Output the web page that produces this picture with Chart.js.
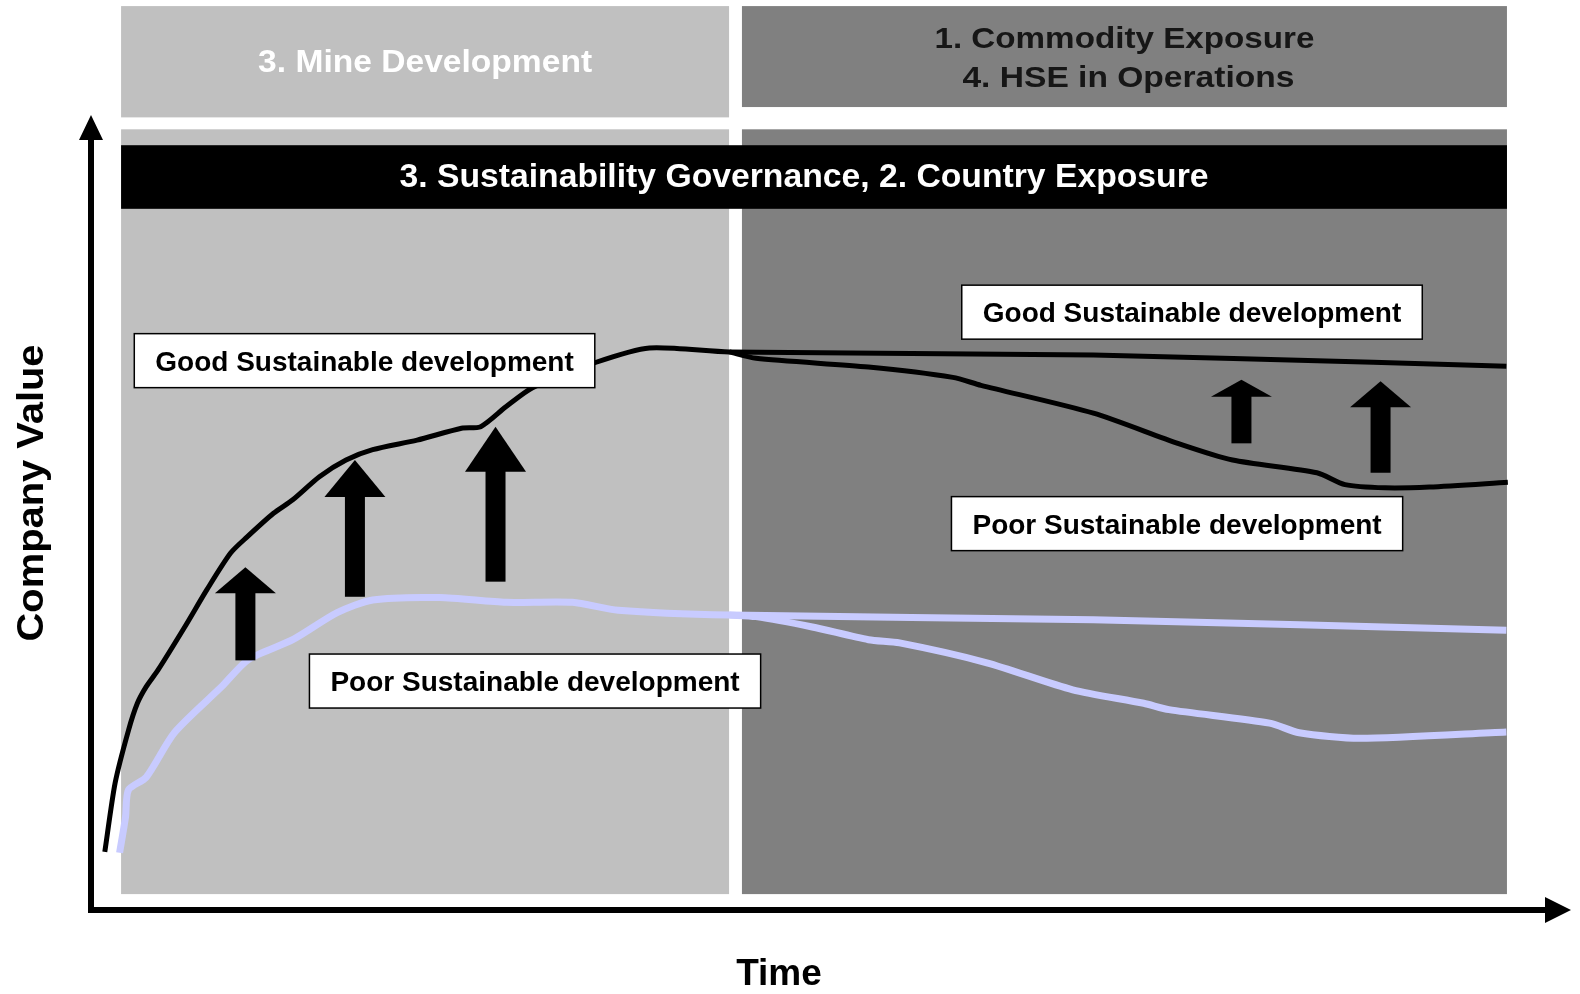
<!DOCTYPE html>
<html>
<head>
<meta charset="utf-8">
<script src="https://cdn.jsdelivr.net/npm/chart.js@4/dist/chart.umd.min.js"></script>
<style>
body{margin:0;background:#fff}
canvas{display:block}
</style>
</head>
<body>
<canvas id="chart" width="1580" height="994"></canvas>
<script>
// Company value over time (arbitrary units 0-100)
// Good sustainable development - black curve
const goodTime  = [1.0, 1.7, 2.6, 3.2, 3.8, 4.6, 6.4, 7.9, 9.5, 10.6, 12.4, 13.7, 15.5, 17.3, 19.1, 22.1, 25.1, 26.4, 28.1, 29.9, 34.2, 37.8, 43.2, 67.8, 86.7, 95.7];
const goodValue = [7.3, 16.0, 22.6, 26.0, 28.1, 30.2, 35.6, 40.3, 44.9, 46.9, 49.9, 51.6, 54.5, 56.6, 57.9, 59.1, 60.6, 60.8, 63.3, 65.7, 68.9, 70.7, 70.2, 69.8, 68.9, 68.4];
// black curve after operations start, poor sustainability
const goodDropTime  = [43.2, 45.0, 52.6, 58.3, 60.2, 67.8, 73.5, 77.2, 82.9, 84.8, 87.5, 90.5, 95.8];
const goodDropValue = [70.2, 69.4, 68.3, 67.0, 66.0, 62.5, 58.7, 56.6, 55.0, 53.5, 53.1, 53.2, 53.8];
// Poor sustainable development - light blue curve
const poorTime  = [2.0, 2.4, 2.6, 3.8, 5.7, 8.9, 10.7, 13.7, 16.7, 19.1, 23.6, 28.1, 32.6, 35.7, 43.2, 67.8, 95.7];
const poorValue = [7.2, 11.7, 15.1, 16.7, 22.3, 28.1, 31.5, 34.0, 37.4, 39.0, 39.3, 38.7, 38.7, 37.7, 37.1, 36.5, 35.2];
const poorDropTime  = [43.2, 45.0, 48.8, 52.6, 54.7, 60.6, 66.4, 71.2, 72.9, 79.7, 81.7, 85.8, 95.7];
const poorDropValue = [37.1, 36.9, 35.6, 34.0, 33.6, 31.1, 27.7, 26.0, 25.2, 23.5, 22.3, 21.6, 22.4];

// value uplift arrows
const arrowTime = [10.5, 17.9, 27.4, 77.8, 87.2];
const arrowFrom = [31.4, 39.4, 41.3, 58.7, 55.0];
const arrowTo   = [43.1, 56.6, 60.8, 66.7, 66.5];

// phases
const phaseNames = ['3. Mine Development', '1. Commodity Exposure\n4. HSE in Operations'];
const phaseStart = [2.1, 44.05];
const phaseEnd   = [43.18, 95.74];
const bandText = '3. Sustainability Governance, 2. Country Exposure';

// curve labels
const labelText  = ['Good Sustainable development', 'Poor Sustainable development', 'Good Sustainable development', 'Poor Sustainable development'];
const labelTime  = [18.55, 30.07, 74.46, 73.45];
const labelValue = [69.1, 28.8, 75.2, 48.6];

const FONT = '"Liberation Sans", Arial, Helvetica, sans-serif';
const BLUE = '#c8cbff';

function pts(t, v){ return t.map((x, i) => ({x: x, y: v[i]})); }

// draw text squeezed/stretched to a given width
function fitText(ctx, txt, x, y, w){
  const m = ctx.measureText(txt).width;
  ctx.save();
  ctx.translate(x, y);
  ctx.scale(w / m, 1);
  ctx.fillText(txt, 0, 0);
  ctx.restore();
}

const backdrop = {
  id: 'backdrop',
  beforeDatasetsDraw(chart){
    const ctx = chart.ctx, xs = chart.scales.x, ys = chart.scales.y;
    const X = v => xs.getPixelForValue(v), Y = v => ys.getPixelForValue(v);
    ctx.save();
    const fills = ['#c0c0c0', '#808080'];
    const headBottom = [99.7, 101.0];
    phaseNames.forEach((name, i) => {
      const x0 = X(phaseStart[i]), x1 = X(phaseEnd[i]);
      ctx.fillStyle = fills[i];
      ctx.fillRect(x0, Y(98.2), x1 - x0, Y(2.0) - Y(98.2));
      ctx.fillRect(x0, Y(113.7), x1 - x0, Y(headBottom[i]) - Y(113.7));
    });
    // phase headers
    ctx.textAlign = 'center';
    ctx.textBaseline = 'alphabetic';
    ctx.fillStyle = '#fff';
    ctx.font = 'bold 32px ' + FONT;
    fitText(ctx, phaseNames[0], (X(phaseStart[0]) + X(phaseEnd[0])) / 2, 72, 334);
    ctx.fillStyle = '#161616';
    ctx.font = 'bold 30px ' + FONT;
    const lines = phaseNames[1].split('\n');
    const cx = (X(phaseStart[1]) + X(phaseEnd[1])) / 2;
    fitText(ctx, lines[0], cx, 48, 380);
    fitText(ctx, lines[1], cx + 4, 87, 332);
    // governance band
    ctx.fillStyle = '#000';
    ctx.fillRect(X(phaseStart[0]), Y(96.2), X(phaseEnd[1]) - X(phaseStart[0]), Y(88.2) - Y(96.2));
    ctx.fillStyle = '#fff';
    ctx.font = 'bold 33px ' + FONT;
    fitText(ctx, bandText, 804, 187, 809);
    ctx.restore();
  },
  afterDatasetsDraw(chart){
    const ctx = chart.ctx, xs = chart.scales.x, ys = chart.scales.y;
    const X = v => xs.getPixelForValue(v), Y = v => ys.getPixelForValue(v);
    ctx.save();
    // arrows
    const headLen = [26, 37, 45, 17, 26];
    ctx.fillStyle = '#000';
    arrowTime.forEach((t, i) => {
      const x = X(t), yb = Y(arrowFrom[i]), yt = Y(arrowTo[i]), yh = yt + headLen[i];
      ctx.fillRect(x - 10, yh - 1, 20, yb - yh + 1);
      ctx.beginPath();
      ctx.moveTo(x, yt);
      ctx.lineTo(x + 30.5, yh);
      ctx.lineTo(x - 30.5, yh);
      ctx.closePath();
      ctx.fill();
    });
    // labels
    ctx.font = 'bold 28px ' + FONT;
    ctx.textAlign = 'center';
    ctx.textBaseline = 'alphabetic';
    labelText.forEach((txt, i) => {
      const w = ctx.measureText(txt).width + 42, h = 54;
      const x = X(labelTime[i]), y = Y(labelValue[i]);
      ctx.fillStyle = '#fff';
      ctx.fillRect(x - w / 2, y - h / 2, w, h);
      ctx.strokeStyle = '#000';
      ctx.lineWidth = 1.5;
      ctx.strokeRect(x - w / 2, y - h / 2, w, h);
      ctx.fillStyle = '#000';
      ctx.fillText(txt, x, y + 10);
    });
    // axes with arrow heads
    ctx.strokeStyle = '#000';
    ctx.lineWidth = 6;
    ctx.beginPath();
    ctx.moveTo(91, 913);
    ctx.lineTo(91, 132);
    ctx.moveTo(88, 910);
    ctx.lineTo(1550, 910);
    ctx.stroke();
    ctx.beginPath();
    ctx.moveTo(91, 115); ctx.lineTo(103, 140); ctx.lineTo(79, 140); ctx.closePath();
    ctx.moveTo(1571, 910); ctx.lineTo(1545, 897); ctx.lineTo(1545, 923); ctx.closePath();
    ctx.fill();
    // axis titles
    ctx.font = 'bold 37px ' + FONT;
    ctx.fillText('Time', 779, 985);
    ctx.translate(30, 493);
    ctx.rotate(-Math.PI / 2);
    ctx.font = 'bold 36px ' + FONT;
    fitText(ctx, 'Company Value', 0, 13, 297);
    ctx.restore();
  }
};

new Chart(document.getElementById('chart'), {
  type: 'line',
  data: {
    datasets: [
      {data: pts(poorTime, poorValue), borderColor: BLUE, borderWidth: 7},
      {data: pts(poorDropTime, poorDropValue), borderColor: BLUE, borderWidth: 7},
      {data: pts(goodTime, goodValue), borderColor: '#000', borderWidth: 5},
      {data: pts(goodDropTime, goodDropValue), borderColor: '#000', borderWidth: 5}
    ]
  },
  options: {
    responsive: false,
    animation: false,
    elements: {point: {radius: 0}, line: {tension: 0.25, borderCapStyle: 'butt', borderJoinStyle: 'round'}},
    layout: {padding: {left: 90, right: 10, top: 115, bottom: 84}},
    scales: {
      x: {type: 'linear', min: 0, max: 100, display: false},
      y: {type: 'linear', min: 0, max: 100, display: false}
    },
    plugins: {legend: {display: false}, tooltip: {enabled: false}}
  },
  plugins: [backdrop]
});
</script>
</body>
</html>
